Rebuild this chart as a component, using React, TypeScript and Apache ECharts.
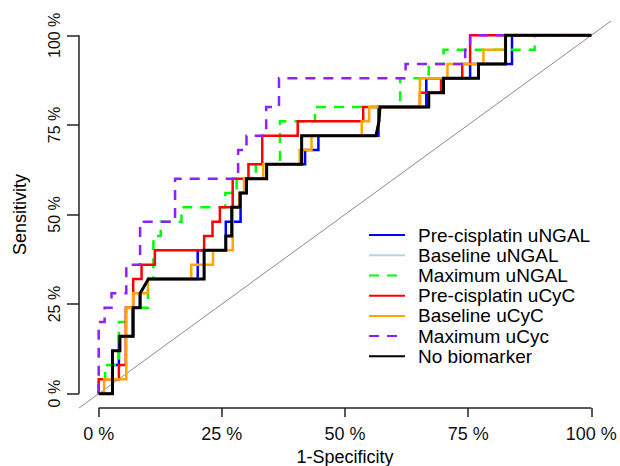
import React, { useEffect, useRef } from 'react';
import * as echarts from 'echarts';

const xTickValues = [0, 25, 50, 75, 100];
const yTickValues = [0, 25, 50, 75, 100];

const seriesNames = [
  'Pre-cisplatin uNGAL',
  'Baseline uNGAL',
  'Maximum uNGAL',
  'Pre-cisplatin uCyC',
  'Baseline uCyC',
  'Maximum uCyc',
  'No biomarker',
];

// [1-specificity %, sensitivity %]
const preCisplatinUNGAL = [
  [0, 0], [2.8, 0], [2.8, 8], [4.1, 8], [4.1, 16], [6.9, 16], [6.9, 24], [8.4, 24], [8.4, 28], [10.1, 32],
  [20.1, 32], [20.1, 40], [25.8, 40], [25.8, 48], [28.8, 48], [28.8, 56], [30.0, 56], [30.0, 60],
  [34.1, 60], [34.1, 64], [41.9, 64], [41.9, 68], [44.6, 68], [44.6, 72], [56.8, 72], [56.8, 80],
  [66.5, 80], [66.5, 88], [75.4, 88], [75.4, 92], [83.9, 92], [83.9, 100], [100, 100],
];

const baselineUNGAL = [
  [0, 0], [2.8, 0], [2.8, 12], [4.3, 12], [4.3, 16], [7.0, 16], [7.0, 24], [8.4, 24], [8.4, 28], [10.1, 32],
  [21.4, 32], [21.4, 40], [25.8, 40], [25.8, 44], [27.0, 44], [27.0, 52], [28.7, 52], [28.7, 56],
  [30.0, 56], [30.0, 60], [34.1, 60], [34.1, 64], [41.2, 64], [41.2, 72], [56.3, 72], [56.9, 76],
  [57.1, 80], [67.0, 80], [67.0, 84], [70.0, 84], [70.0, 88], [77.1, 88], [77.1, 92], [82.6, 92],
  [82.6, 100], [100, 100],
];

const maximumUNGAL = [
  [0, 0], [0, 4], [1.3, 4], [1.3, 8], [4.1, 8], [4.1, 20], [5.6, 20], [5.6, 24], [10.0, 24], [10.0, 32],
  [11.1, 32], [11.1, 44], [12.6, 44], [12.6, 48], [16.8, 48], [16.8, 52], [25.7, 52], [25.7, 56],
  [28.0, 56], [28.0, 60], [31.9, 60], [31.9, 64], [36.8, 64], [36.8, 76], [43.9, 76], [43.9, 80],
  [61.2, 80], [61.2, 88], [67.0, 88], [67.0, 92], [70.0, 92], [70.0, 96], [88.5, 96], [88.5, 100],
  [100, 100],
];

const preCisplatinUCyC = [
  [0, 0], [0, 4], [4.1, 4], [4.1, 8], [5.5, 8], [5.5, 24], [7.0, 24], [7.0, 32], [8.7, 32], [8.7, 36],
  [11.4, 36], [11.4, 40], [21.4, 40], [21.4, 44], [23.1, 44], [23.1, 48], [24.6, 48], [24.6, 52],
  [27.2, 52], [27.2, 60], [30.4, 60], [30.4, 64], [33.2, 64], [33.2, 72], [40.4, 72], [40.4, 76],
  [53.7, 76], [53.7, 80], [65.2, 80], [65.2, 84], [69.5, 84], [69.5, 88], [73.8, 88], [73.8, 92],
  [75.4, 92], [75.4, 100], [100, 100],
];

const baselineUCyC = [
  [0, 0], [1.1, 0], [1.1, 4], [5.6, 4], [5.6, 24], [7.0, 24], [7.0, 28], [10.0, 28], [10.0, 32],
  [18.8, 32], [18.8, 36], [23.2, 36], [23.2, 40], [27.2, 40], [27.2, 52], [28.5, 52], [28.5, 56],
  [29.5, 56], [29.5, 60], [33.4, 60], [33.4, 64], [40.8, 64], [40.8, 68], [43.2, 68], [43.2, 72],
  [53.4, 72], [53.4, 76], [54.9, 76], [54.9, 80], [65.2, 80], [65.2, 88], [70.8, 88], [70.8, 92],
  [78.1, 92], [78.1, 96], [82.5, 96], [82.5, 100], [100, 100],
];

const maximumUCyc = [
  [0, 0], [0, 20], [1.2, 20], [1.2, 24], [2.6, 24], [2.6, 28], [5.6, 28], [5.6, 36], [8.4, 36], [8.4, 48],
  [15.5, 48], [15.5, 60], [28.3, 60], [28.3, 68], [30.0, 68], [30.0, 72], [34.0, 72], [34.0, 80],
  [36.6, 80], [36.6, 88], [62.3, 88], [62.3, 92], [74.4, 92], [74.4, 96], [75.4, 96], [75.4, 100],
  [100, 100],
];

const noBiomarker = [
  [0, 0], [2.8, 0], [2.8, 12], [4.3, 12], [4.3, 16], [7.0, 16], [7.0, 24], [8.4, 24], [8.4, 28], [10.1, 32],
  [21.4, 32], [21.4, 40], [25.8, 40], [25.8, 44], [27.0, 44], [27.0, 52], [28.7, 52], [28.7, 56],
  [30.0, 56], [30.0, 60], [34.1, 60], [34.1, 64], [41.2, 64], [41.2, 72], [56.3, 72], [56.9, 76],
  [57.1, 80], [67.0, 80], [67.0, 84], [70.0, 84], [70.0, 88], [77.1, 88], [77.1, 92], [82.6, 92],
  [82.6, 100], [100, 100],
];

const seriesData = [
  preCisplatinUNGAL,
  baselineUNGAL,
  maximumUNGAL,
  preCisplatinUCyC,
  baselineUCyC,
  maximumUCyc,
  noBiomarker,
];

const seriesColors = ['#0000FF', '#ADD8E6', '#00FF00', '#FF0000', '#FFA500', '#9020F8', '#000000'];
const seriesDashed = [false, false, true, false, false, true, false];
const seriesWidths = [2.5, 2.5, 2.5, 2.5, 2.5, 2.5, 3];

export default function App() {
  const ref = useRef<HTMLDivElement>(null);

  useEffect(() => {
    if (!ref.current) return;
    const chart = echarts.init(ref.current, null, { renderer: 'svg' });
    const font = "'Liberation Sans', Arial, Helvetica, sans-serif";
    const axisColor = '#222';

    const curveSeries = seriesNames.map((name, i) => ({
      name,
      type: 'line',
      data: seriesData[i],
      symbol: 'none',
      silent: true,
      clip: false,
      color: seriesColors[i],
      lineStyle: {
        color: seriesColors[i],
        width: seriesWidths[i],
        type: seriesDashed[i] ? [10, 8] : 'solid',
        cap: 'butt',
        join: 'miter',
      },
      z: 3 + i,
    }));

    chart.setOption({
      animation: false,
      backgroundColor: '#ffffff',
      textStyle: { fontFamily: font },
      grid: { left: 79, right: 9, top: 21, bottom: 58, containLabel: false, outerBoundsMode: 'none' },
      legend: {
        orient: 'vertical',
        left: 363,
        top: 220,
        itemWidth: 36,
        itemHeight: 10,
        itemGap: 0,
        selectedMode: false,
        data: seriesNames,
        itemStyle: { opacity: 0 },
        lineStyle: { width: 2 },
        textStyle: {
          fontSize: 19,
          lineHeight: 20.2,
          color: '#000',
          fontFamily: font,
          padding: [0, 0, 0, 8],
        },
      },
      xAxis: {
        type: 'value',
        min: -4,
        max: 104,
        name: '1-Specificity',
        nameLocation: 'middle',
        nameGap: 40,
        nameTextStyle: { fontSize: 18, lineHeight: 18, color: '#000', fontFamily: font },
        axisLine: { show: false, onZero: false },
        splitLine: { show: false },
        axisTick: {
          show: true,
          customValues: xTickValues,
          length: 9,
          lineStyle: { color: axisColor, width: 1.5 },
        },
        axisLabel: {
          customValues: xTickValues,
          formatter: (v: number) => `${v} %`,
          fontSize: 18,
          color: '#111',
          margin: 17,
          fontFamily: font,
        },
      },
      yAxis: {
        type: 'value',
        min: -4,
        max: 104,
        name: 'Sensitivity',
        nameLocation: 'middle',
        nameGap: 50,
        nameTextStyle: { fontSize: 18, color: '#000', fontFamily: font },
        axisLine: { show: false, onZero: false },
        splitLine: { show: false },
        axisTick: {
          show: true,
          customValues: yTickValues,
          length: 12,
          lineStyle: { color: axisColor, width: 1.5 },
        },
        axisLabel: {
          customValues: yTickValues,
          formatter: (v: number) => `${v} %`,
          fontSize: 16,
          color: '#111',
          rotate: 90,
          margin: 17,
          fontFamily: font,
        },
      },
      series: [
        {
          type: 'line',
          data: [[-4, -4], [104, 104]],
          symbol: 'none',
          silent: true,
          clip: false,
          lineStyle: { color: '#8a8a8a', width: 1 },
          z: 2,
        },
        {
          type: 'line',
          data: [[-4, 0], [-4, 100]],
          symbol: 'none',
          silent: true,
          clip: false,
          lineStyle: { color: axisColor, width: 1.5 },
          z: 2,
        },
        {
          type: 'line',
          data: [[0, -4], [100, -4]],
          symbol: 'none',
          silent: true,
          clip: false,
          lineStyle: { color: axisColor, width: 1.5 },
          z: 2,
        },
        ...curveSeries,
      ],
    });

    return () => chart.dispose();
  }, []);

  return (
    <div
      ref={ref}
      style={{ position: 'fixed', left: 0, top: 0, width: 620, height: 466, background: '#fff' }}
    />
  );
}
